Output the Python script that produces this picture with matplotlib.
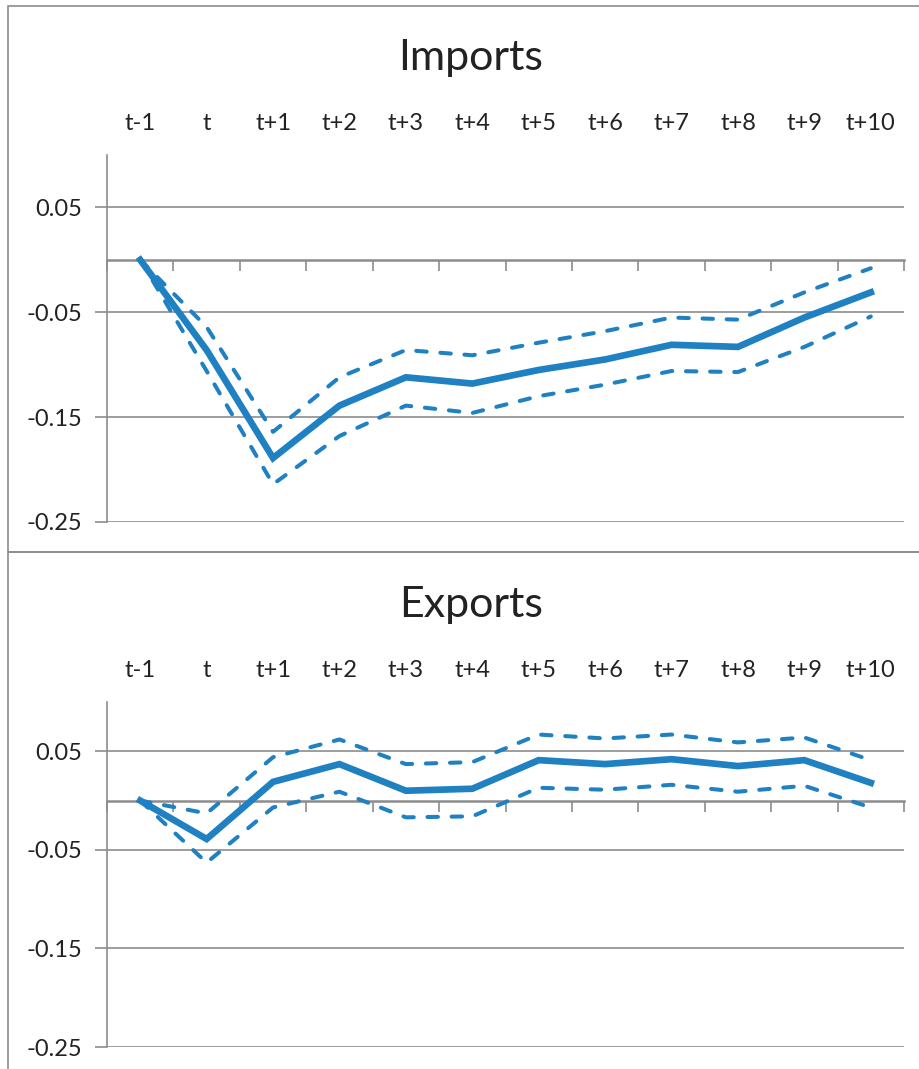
import numpy as np
import matplotlib.pyplot as plt
from matplotlib.patches import Rectangle

plt.rcParams['font.family'] = ['Lato', 'DejaVu Sans']

periods = ["t-1", "t", "t+1", "t+2", "t+3", "t+4", "t+5", "t+6", "t+7", "t+8", "t+9", "t+10"]
yticks = [0.05, -0.05, -0.15, -0.25]

imp_mid = [0.0, -0.086, -0.189, -0.139, -0.112, -0.118, -0.105, -0.095, -0.081, -0.083, -0.055, -0.031]
imp_hi = [0.0, -0.064, -0.164, -0.112, -0.086, -0.091, -0.079, -0.068, -0.055, -0.057, -0.031, -0.008]
imp_lo = [0.0, -0.106, -0.214, -0.168, -0.139, -0.146, -0.130, -0.119, -0.106, -0.107, -0.083, -0.054]

exp_mid = [0.0, -0.039, 0.019, 0.037, 0.010, 0.012, 0.041, 0.037, 0.042, 0.035, 0.041, 0.018]
exp_hi = [0.0, -0.013, 0.044, 0.062, 0.037, 0.039, 0.067, 0.063, 0.067, 0.059, 0.064, 0.041]
exp_lo = [0.0, -0.063, -0.007, 0.009, -0.017, -0.016, 0.013, 0.011, 0.016, 0.009, 0.015, -0.007]

blue = "#1f80c2"
gray = "#8c8c8c"

fig = plt.figure(figsize=(9.2, 10.69), dpi=100)

# panel frames (cut off on the right / bottom like the original)
for y0, h in [(1 - 552 / 1069, 546 / 1069), (-0.1, 1 - 552 / 1069 + 0.1)]:
    fig.patches.append(Rectangle((8 / 920, y0), 1.2, h, transform=fig.transFigure,
                                 fill=False, edgecolor=gray, linewidth=1.2))


def panel(rect, title, title_y, mid, hi, lo):
    ax = fig.add_axes(rect)
    x = np.arange(len(periods))
    dash = (0, (2.6, 3.4))
    ax.plot(x, hi, color=blue, lw=2.9, ls=dash, dash_capstyle='round')
    ax.plot(x, lo, color=blue, lw=2.9, ls=dash, dash_capstyle='round')
    ax.plot(x, mid, color=blue, lw=4.8, solid_joinstyle='miter')
    ax.set_xlim(-0.5, len(periods) - 0.5)
    ax.set_ylim(-0.25, 0.1)
    ax.set_yticks(yticks)
    ax.set_yticklabels([f"{v:g}" for v in yticks])
    ax.yaxis.grid(True, color=gray, lw=1.2)
    ax.set_axisbelow(True)
    for s in ["top", "right", "bottom"]:
        ax.spines[s].set_visible(False)
    ax.spines["left"].set_color(gray)
    ax.spines["left"].set_linewidth(1.2)
    ax.tick_params(axis="y", length=9, width=1.2, color=gray, pad=9, labelsize=17, labelcolor="#222222")
    ax.xaxis.tick_top()
    ax.set_xticks(x)
    ax.set_xticklabels(periods)
    ax.tick_params(axis="x", length=0, pad=15, labelsize=17, labelcolor="#222222")

    # category axis drawn along zero with boundary ticks pointing down
    frac = (0 - (-0.25)) / 0.35
    sec = ax.secondary_xaxis(frac)
    sec.set_xticks(np.arange(len(periods) + 1) - 0.5)
    sec.set_xticklabels([])
    for sp in sec.spines.values():
        sp.set_color(gray)
        sp.set_linewidth(1.8)
    sec.tick_params(direction="in", length=8, width=1.2, color=gray)
    sec.set_zorder(0)

    fig.text(471 / 920, 1 - title_y / 1069, title, ha="center", va="center",
             fontsize=31, color="#222222")
    return ax


panel([107 / 920, 1 - 522 / 1069, 797 / 920, 367 / 1069], "Imports", 58, imp_mid, imp_hi, imp_lo)
panel([107 / 920, 1 - 1047 / 1069, 797 / 920, 345 / 1069], "Exports", 605, exp_mid, exp_hi, exp_lo)

fig.savefig("out.png", dpi=100)
